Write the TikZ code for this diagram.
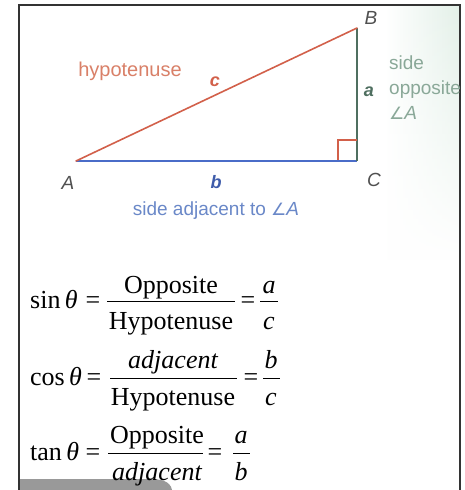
\documentclass[tikz,border=0pt]{standalone}
\usepackage{fontspec}
\usetikzlibrary{fadings}
\setmainfont{Liberation Serif}
\newfontfamily\sansf{Liberation Sans}
\newfontfamily\dejav{DejaVu Sans}
\definecolor{hypred}{HTML}{D2604A}
\definecolor{hyptext}{HTML}{D98068}
\definecolor{adjblue}{HTML}{4A6CC8}
\definecolor{adjtext}{HTML}{6A88C8}
\definecolor{oppline}{HTML}{4F6F60}
\definecolor{opptext}{HTML}{8AA898}
\definecolor{vtxgray}{HTML}{505050}
\definecolor{tint}{HTML}{E3F0E8}
\tikzset{
  vtx/.style={font=\sansf\itshape\fontsize{19}{22}\selectfont, text=vtxgray, inner sep=0pt},
  sidelbl/.style={font=\sansf\bfseries\itshape\fontsize{18}{22}\selectfont, inner sep=0pt},
  eq/.style={font=\fontsize{26}{30}\selectfont, inner sep=0pt, anchor=base},
  eqw/.style={font=\fontsize{26}{30}\selectfont, inner sep=0pt, anchor=base west},
  fbar/.style={line width=1pt, black}
}
\begin{document}
\begin{tikzpicture}[x=1pt,y=-1pt]
\useasboundingbox (0,0) rectangle (464,490);
\fill[white] (0,0) rectangle (464,490);
% scanned tint on the right
\shade[left color=white, right color=tint, path fading=south] (385,6) rectangle (459,260);
% frame
\draw[line width=1.1pt, black!80] (19,495) -- (19,5) -- (460,5) -- (460,495);
% gray tab at bottom
\fill[black!40] (20,490) -- (20,479) -- (150,479) to[out=0,in=100] (172,490) -- cycle;
% triangle
\coordinate (A) at (76,161);
\coordinate (B) at (357,28);
\coordinate (C) at (357,161);
\draw[line width=1.6pt, adjblue] (A) -- (C);
\draw[line width=1.6pt, oppline] (C) -- (B);
\draw[line width=1.6pt, hypred, line cap=round] (A) -- (B);
\draw[line width=1.2pt, hypred] (357,140) -- (338,140) -- (338,160);
% labels
\node[vtx] (lB) at (371,18) {B};
\node[vtx] (lA) at (68,183) {A};
\node[vtx] (lC) at (374,180) {C};
\node[sidelbl, text=hypred] (lc) at (215,82) {c};
\node[sidelbl, text=adjblue!85!black] (lb) at (216,182) {b};
\node[sidelbl, text=oppline] (la) at (369,92) {a};
\node[font=\sansf\fontsize{20}{24}\selectfont, text=hyptext, inner sep=0pt] (hyp) at (130,71) {hypotenuse};
\node[font=\sansf\fontsize{19}{23}\selectfont, text=adjtext, inner sep=0pt] (adj) at (216,211) {side adjacent to {\dejav\fontsize{17}{20}\selectfont ∠}{\itshape A}};
\node[font=\sansf\fontsize{19}{25}\selectfont, text=opptext, inner sep=0pt, anchor=north west, align=left] (opp) at (389,56) {side\\opposite\\{\dejav\fontsize{17}{20}\selectfont ∠}{\itshape A}};
% equation 1
\node[eqw] (s1) at (30,308) {sin{\,\itshape θ}};
\node[eq] (e1) at (93,308) {=};
\draw[fbar] (107,301) -- (235,301);
\node[eq] (n1) at (171,293) {Opposite};
\node[eq] (d1) at (171,329) {Hypotenuse};
\node[eq] (e1b) at (248,308) {=};
\draw[fbar] (260,301) -- (278,301);
\node[eq] (n1b) at (269,293) {\itshape a};
\node[eq] (d1b) at (269,329) {\itshape c};
% equation 2
\node[eqw] (s2) at (30,385) {cos{\,\itshape θ}};
\node[eq] (e2) at (94,385) {=};
\draw[fbar] (110,378) -- (237,378);
\node[eq] (n2) at (173,368) {\itshape adjacent};
\node[eq] (d2) at (173,405) {Hypotenuse};
\node[eq] (e2b) at (251,385) {=};
\draw[fbar] (263,378) -- (280,378);
\node[eq] (n2b) at (271,368) {\itshape b};
\node[eq] (d2b) at (271,405) {\itshape c};
% equation 3
\node[eqw] (s3) at (30,460) {tan{\,\itshape θ}};
\node[eq] (e3) at (93,460) {=};
\draw[fbar] (108,453) -- (203,453);
\node[eq] (n3) at (157,443) {Opposite};
\node[eq] (d3) at (157,480) {\itshape adjacent};
\node[eq] (e3b) at (215,460) {=};
\draw[fbar] (233,453) -- (250,453);
\node[eq] (n3b) at (241,443) {\itshape a};
\node[eq] (d3b) at (241,480) {\itshape b};
\end{tikzpicture}
\end{document}
